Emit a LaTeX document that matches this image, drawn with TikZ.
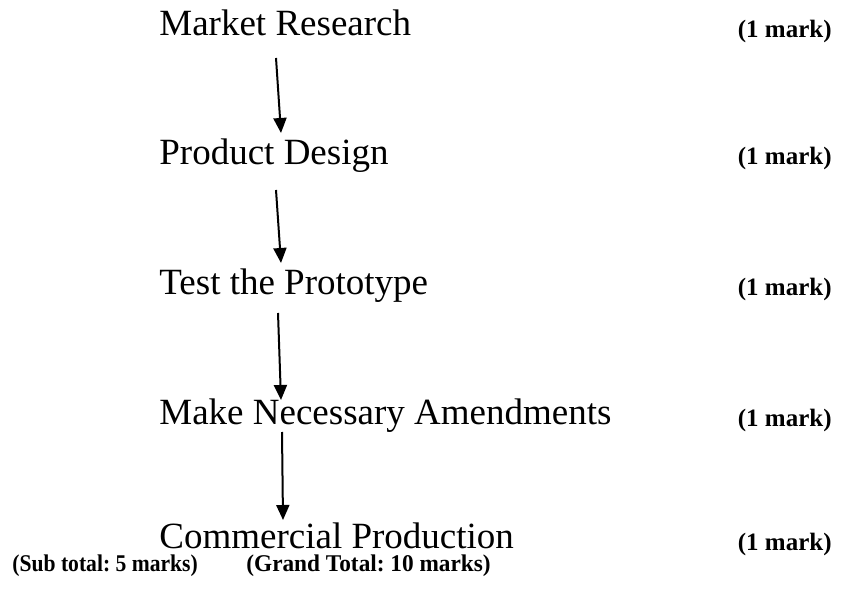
\documentclass[tikz,border=0pt]{standalone}
\usepackage{fontspec}
\setmainfont{Liberation Serif}
\usetikzlibrary{arrows.meta}
\frenchspacing

\tikzset{
  stage/.style={anchor=base west,inner sep=0pt,font=\fontsize{18.5}{22}\selectfont},
  marks/.style={anchor=base east,inner sep=0pt,font=\fontsize{12.5}{15}\selectfont\bfseries},
  total/.style={anchor=base west,inner sep=0pt,font=\fontsize{12}{14}\selectfont\bfseries},
  flow/.style={line width=1pt,-{Triangle[length=7.5pt,width=6.5pt]}}
}

\begin{document}
\begin{tikzpicture}[x=0.5pt,y=-0.5pt]
  \useasboundingbox (0,0) rectangle (841,593);
  % stages
  \node[stage] (research) at (159,36) {Market Research};
  \node[stage] (design) at (159,165) {Product Design};
  \node[stage] (test) at (159,295) {Test the Prototype};
  \node[stage] (amend) at (159,424) {Make Necessary Amendments};
  \node[stage] (prod) at (159,548) {Commercial Production};
  % marks
  \node[marks] (m1) at (832,38) {(1 mark)};
  \node[marks] (m2) at (832,165) {(1 mark)};
  \node[marks] (m3) at (832,296) {(1 mark)};
  \node[marks] (m4) at (832,426) {(1 mark)};
  \node[marks] (m5) at (832,550) {(1 mark)};
  % totals
  \node[total] (sub) at (12,571) {\scalebox{0.9}[1]{(Sub total: 5 marks)}};
  \node[total] (grand) at (246,571) {\scalebox{0.97}[1]{(Grand Total: 10 marks)}};
  % arrows
  \coordinate (a1) at (276,58);  \coordinate (b1) at (281,133);
  \coordinate (a2) at (276,190); \coordinate (b2) at (281,263);
  \coordinate (a3) at (278,313); \coordinate (b3) at (281,400);
  \coordinate (a4) at (282,432); \coordinate (b4) at (283,520);
  \foreach \i in {1,...,4}
    \draw[flow] (a\i) -- (b\i);
\end{tikzpicture}
\end{document}
